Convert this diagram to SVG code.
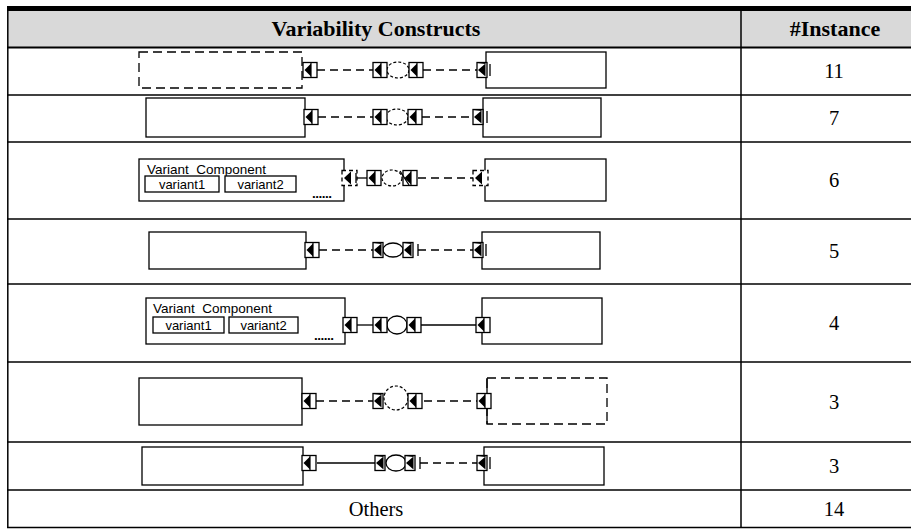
<svg xmlns="http://www.w3.org/2000/svg" xmlns:xlink="http://www.w3.org/1999/xlink" width="911" height="529" viewBox="0 0 911 529">
<style>
.box{fill:#fff;stroke:#000;stroke-width:1.3}
.dbox{fill:none;stroke:#000;stroke-width:1.3;stroke-dasharray:9,5}
.sl{fill:none;stroke:#000;stroke-width:1.3}
.dl{fill:none;stroke:#000;stroke-width:1.3;stroke-dasharray:8,5}
.dc{fill:none;stroke:#000;stroke-width:1.2;stroke-dasharray:3,2}
.grid{stroke:#000;stroke-width:1.5}
.hd{font-family:"Liberation Serif","Times New Roman",serif;font-weight:bold;font-size:22px;text-anchor:middle}
.num{font-family:"Liberation Serif","Times New Roman",serif;font-size:20.5px;text-anchor:middle}
.vc{font-family:"Liberation Sans",Arial,sans-serif;font-size:13.5px}
.vv{font-family:"Liberation Sans",Arial,sans-serif;font-size:13px;text-anchor:middle}
</style>
<defs>
<g id="p"><rect x="0" y="-7.5" width="14" height="15" fill="#fff" stroke="#000" stroke-width="1.3"/><path d="M1.5,0 L8,-6.5 L8,6.5 Z" fill="#000"/><line x1="8" y1="-7" x2="8" y2="7" stroke="#000" stroke-width="1.2"/></g>
<g id="pn"><rect x="0" y="-7.5" width="10" height="15" fill="#fff" stroke="#000" stroke-width="1.3"/><path d="M1,0 L8.5,-6.5 L8.5,6.5 Z" fill="#000"/><line x1="0" y1="-7.5" x2="8.5" y2="-6.5" stroke="#000" stroke-width="1"/></g>
<g id="pd"><rect x="0" y="-7.5" width="15" height="15" fill="#fff" stroke="#000" stroke-width="1.3" stroke-dasharray="4,3"/><path d="M2,0 L9,-6.5 L9,6.5 Z" fill="#000"/></g>
</defs>
<rect width="911" height="529" fill="#fff"/>
<g id="table">
<rect x="7" y="11" width="904" height="36" fill="#d9d9d9"/>
<rect x="7" y="6" width="904" height="5" fill="#000"/>
<line x1="7" y1="47.5" x2="911" y2="47.5" stroke="#000" stroke-width="2"/>
<line class="grid" x1="7" y1="95" x2="911" y2="95"/>
<line class="grid" x1="7" y1="142" x2="911" y2="142"/>
<line class="grid" x1="7" y1="219" x2="911" y2="219"/>
<line class="grid" x1="7" y1="284" x2="911" y2="284"/>
<line class="grid" x1="7" y1="362" x2="911" y2="362"/>
<line class="grid" x1="7" y1="442" x2="911" y2="442"/>
<line class="grid" x1="7" y1="490" x2="911" y2="490"/>
<line class="grid" x1="7" y1="527.5" x2="911" y2="527.5"/>
<line class="grid" x1="7.8" y1="6" x2="7.8" y2="528"/>
<line class="grid" x1="741" y1="11" x2="741" y2="528"/>
<text class="hd" x="376" y="36">Variability Constructs</text>
<text class="hd" x="835" y="36">#Instance</text>
<text class="num" x="834" y="78">11</text>
<text class="num" x="834" y="125">7</text>
<text class="num" x="834" y="187">6</text>
<text class="num" x="834" y="258">5</text>
<text class="num" x="834" y="330">4</text>
<text class="num" x="834" y="409">3</text>
<text class="num" x="834" y="473">3</text>
<text class="num" x="376" y="516">Others</text>
<text class="num" x="834" y="516">14</text>
</g>
<g id="r1-left"><rect class="dbox" x="139" y="52" width="163" height="36"/></g>
<g id="r1-right"><rect class="box" x="486" y="52" width="120" height="36"/></g>
<g id="r2-left"><rect class="box" x="146" y="98" width="159" height="39"/></g>
<g id="r2-right"><rect class="box" x="483" y="98" width="118" height="39"/></g>
<g id="r3-left"><rect class="box" x="139" y="159" width="205" height="42"/>
<text class="vc" x="147" y="174">Variant&#160; Component</text>
<rect class="box" x="145" y="176" width="74" height="16"/><text class="vv" x="182" y="189">variant1</text>
<rect class="box" x="225" y="176" width="71" height="16"/><text class="vv" x="260.5" y="189">variant2</text>
<text class="vc" x="312" y="198" font-weight="bold" letter-spacing="-0.5">......</text></g>
<g id="r3-right"><rect class="box" x="485" y="159" width="121" height="42"/></g>
<g id="r4-left"><rect class="box" x="149" y="232" width="157" height="37"/></g>
<g id="r4-right"><rect class="box" x="482" y="232" width="118" height="37"/></g>
<g id="r5-left"><rect class="box" x="146" y="298" width="199" height="46"/>
<text class="vc" x="153" y="313">Variant&#160; Component</text>
<rect class="box" x="153" y="317" width="71" height="16"/><text class="vv" x="188.5" y="330">variant1</text>
<rect class="box" x="229" y="317" width="69" height="16"/><text class="vv" x="263.5" y="330">variant2</text>
<text class="vc" x="314" y="340" font-weight="bold" letter-spacing="-0.5">......</text></g>
<g id="r5-right"><rect class="box" x="482" y="298" width="120" height="46"/></g>
<g id="r6-left"><rect class="box" x="139" y="378" width="163" height="47"/></g>
<g id="r6-right"><rect class="dbox" x="487" y="378" width="120" height="46"/><line class="sl" x1="487" y1="378" x2="487" y2="424"/></g>
<g id="r7-left"><rect class="box" x="142" y="447" width="161" height="38"/></g>
<g id="r7-right"><rect class="box" x="484" y="447" width="120" height="38"/></g>
<g id="connectors">
<line class="dl" x1="317" y1="70" x2="373" y2="70"/>
<ellipse class="dc" cx="398" cy="70" rx="11" ry="8"/>
<line class="dl" x1="423" y1="70" x2="477" y2="70"/>
<use xlink:href="#p" x="303" y="70"/><use xlink:href="#p" x="373" y="70"/><use xlink:href="#p" x="409" y="70"/>
<use xlink:href="#pn" x="477" y="70"/><line class="sl" x1="490" y1="64" x2="490" y2="76"/>
<line class="dl" x1="318" y1="117" x2="373" y2="117"/>
<ellipse class="dc" cx="397" cy="117" rx="11" ry="8"/>
<line class="dl" x1="422" y1="117" x2="473" y2="117"/>
<use xlink:href="#p" x="304" y="117"/><use xlink:href="#p" x="373" y="117"/><use xlink:href="#p" x="408" y="117"/>
<use xlink:href="#pn" x="473" y="117"/><line class="sl" x1="487" y1="111" x2="487" y2="123"/>
<line class="sl" x1="356" y1="178" x2="367" y2="178"/>
<ellipse class="dc" cx="392" cy="178" rx="10" ry="8"/>
<line class="dl" x1="418" y1="178" x2="473" y2="178"/>
<use xlink:href="#pd" x="342" y="178"/><line class="sl" x1="356" y1="173" x2="356" y2="183"/>
<use xlink:href="#p" x="367" y="178"/>
<use xlink:href="#p" x="403" y="178"/><line class="sl" x1="400" y1="171" x2="409" y2="185"/>
<use xlink:href="#pd" x="473" y="178"/>
<line class="dl" x1="319" y1="250" x2="373" y2="250"/>
<ellipse class="sl" cx="393" cy="250" rx="10" ry="7"/>
<line class="dl" x1="418" y1="250" x2="473" y2="250"/>
<use xlink:href="#p" x="305" y="250"/><use xlink:href="#pn" x="373" y="250"/><use xlink:href="#pn" x="403" y="250"/>
<line class="sl" x1="418" y1="244" x2="418" y2="256"/>
<use xlink:href="#pn" x="473" y="250"/><line class="sl" x1="486" y1="244" x2="486" y2="256"/>
<line class="sl" x1="357" y1="325" x2="373" y2="325"/>
<ellipse class="sl" cx="397" cy="325" rx="10" ry="9"/>
<line class="sl" x1="421" y1="325" x2="476" y2="325"/>
<use xlink:href="#p" x="343" y="325"/><use xlink:href="#p" x="373" y="325"/><use xlink:href="#p" x="407" y="325"/><use xlink:href="#p" x="476" y="325"/>
<line class="dl" x1="316" y1="401" x2="373" y2="401"/>
<ellipse class="dc" cx="396" cy="398" rx="12" ry="12"/>
<line class="dl" x1="424" y1="401" x2="477" y2="401"/>
<use xlink:href="#p" x="302" y="401"/><use xlink:href="#pn" x="373" y="401"/><use xlink:href="#p" x="408" y="401"/><use xlink:href="#p" x="477" y="401"/>
<line class="sl" x1="317" y1="463" x2="375" y2="463"/>
<ellipse class="sl" cx="396" cy="463" rx="10" ry="8"/>
<line class="dl" x1="420" y1="463" x2="477" y2="463"/>
<use xlink:href="#p" x="302" y="463"/><use xlink:href="#pn" x="375" y="463"/><use xlink:href="#pn" x="405" y="463"/>
<line class="sl" x1="420" y1="457" x2="420" y2="469"/>
<use xlink:href="#pn" x="477" y="463"/><line class="sl" x1="490" y1="457" x2="490" y2="469"/>
</g>
</svg>
